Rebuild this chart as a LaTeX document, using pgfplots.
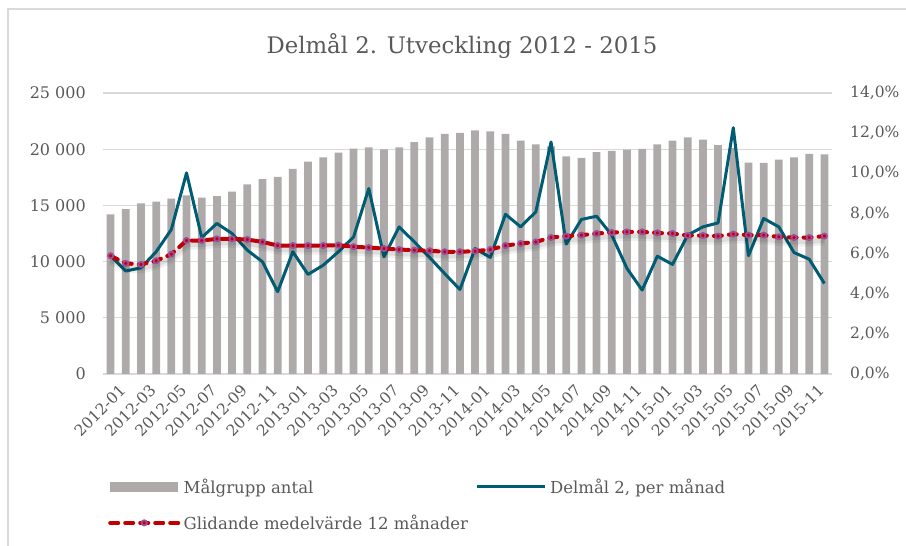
\documentclass[border=0pt]{standalone}
\usepackage{fontspec}
\setmainfont{DejaVu Serif}
\usepackage{pgfplots}
\usepackage{pgfplotstable}
\pgfplotsset{compat=1.18}
\definecolor{barc}{HTML}{AEAAAA}
\definecolor{tealc}{HTML}{005C73}
\definecolor{redc}{HTML}{C00000}
\definecolor{purpc}{HTML}{A04C9E}
\definecolor{gridc}{HTML}{D9D9D9}
\definecolor{txt}{HTML}{595959}
\pgfplotstableread{
m antal delmal glid
1 14200 5.89 5.89
2 14660 5.13 5.51
3 15170 5.29 5.46
4 15340 6.09 5.64
5 15610 7.20 5.97
6 15900 10.02 6.65
7 15700 6.80 6.65
8 15820 7.50 6.73
9 16230 7.00 6.73
10 16880 6.17 6.70
11 17330 5.59 6.58
12 17540 4.10 6.40
13 18250 6.09 6.40
14 18900 4.96 6.40
15 19280 5.42 6.40
16 19700 6.09 6.42
17 20050 6.83 6.34
18 20170 9.24 6.30
19 19990 5.84 6.25
20 20170 7.33 6.20
21 20620 6.58 6.17
22 21060 5.81 6.14
23 21360 5.00 6.09
24 21450 4.21 6.09
25 21680 6.25 6.12
26 21590 5.81 6.20
27 21360 7.96 6.40
28 20760 7.33 6.50
29 20440 8.08 6.58
30 20260 11.56 6.80
31 19370 6.47 6.87
32 19220 7.70 6.92
33 19730 7.86 7.00
34 19850 6.92 7.05
35 19960 5.26 7.08
36 20020 4.18 7.08
37 20440 5.87 7.03
38 20760 5.46 7.00
39 21060 6.92 6.90
40 20850 7.33 6.90
41 20370 7.53 6.87
42 20100 12.27 6.97
43 18800 5.89 6.92
44 18780 7.75 6.92
45 19080 7.33 6.83
46 19280 6.05 6.80
47 19580 5.72 6.80
48 19550 4.51 6.87
}\data
\begin{document}
\begin{tikzpicture}[x=1pt,y=1pt]
\path[use as bounding box] (0,0) rectangle (906,546);
\draw[color=gridc, line width=1.5pt] (8,0) -- (8,537) -- (906,537);
\node[text=txt, font=\fontsize{22.8}{27}\selectfont] at (462,500) {Delmål 2. Utveckling 2012 - 2015};
\begin{axis}[
  at={(103pt,172pt)}, anchor=south west,
  scale only axis, width=729pt, height=281pt,
  xmin=0.5, xmax=48.5, ymin=0, ymax=25000,
  scaled y ticks=false,
  axis x line*=bottom, axis y line*=left,
  y axis line style={draw=none},
  x axis line style={draw=gridc, line width=1.2pt},
  major tick length=0pt,
  ymajorgrids, grid style={draw=gridc, line width=1.2pt},
  ytick={0,5000,10000,15000,20000,25000},
  yticklabels={0,5 000,10 000,15 000,20 000,25 000},
  y tick label style={font=\fontsize{16}{19}\selectfont, text=txt, inner sep=0pt, xshift=-17pt},
  xtick={1,3,...,47},
  xticklabels={2012-01,2012-03,2012-05,2012-07,2012-09,2012-11,2013-01,2013-03,2013-05,2013-07,2013-09,2013-11,2014-01,2014-03,2014-05,2014-07,2014-09,2014-11,2015-01,2015-03,2015-05,2015-07,2015-09,2015-11},
  x tick label style={font=\fontsize{15.5}{18}\selectfont, text=txt, rotate=45, anchor=north east, inner sep=0pt, xshift=-1pt, yshift=-12pt},
]
\addplot[ybar, bar width=7.7pt, fill=barc, draw=none] table[x=m, y=antal] {\data};
\end{axis}
\begin{axis}[
  at={(103pt,172pt)}, anchor=south west,
  scale only axis, width=729pt, height=281pt,
  xmin=0.5, xmax=48.5, ymin=0, ymax=14,
  axis x line=none, axis y line*=right,
  y axis line style={draw=none},
  major tick length=0pt,
  ytick={0,2,4,6,8,10,12,14},
  yticklabels={{0,0\%},{2,0\%},{4,0\%},{6,0\%},{8,0\%},{10,0\%},{12,0\%},{14,0\%}},
  y tick label style={font=\fontsize{15.5}{18}\selectfont, text=txt, inner sep=0pt, xshift=18pt},
  legend image code/.code={\draw[mark repeat=2,mark phase=2,#1] plot coordinates {(0pt,0pt) (34pt,0pt) (68pt,0pt)};},
  legend style={draw=none, fill=none, inner sep=0pt, at={(0.0069,-0.36)}, anchor=north west,
    font=\fontsize{16.5}{19.5}\selectfont, text=txt, row sep=13pt,
    /tikz/every even column/.append style={column sep=4pt},
    nodes={inner sep=3.5pt}},
  legend columns=2, legend cell align=left,
]
\addlegendimage{fill=barc, draw=none, legend image code/.code={\fill[barc] (0pt,-5pt) rectangle (68pt,5pt);}}
\addlegendentry{Målgrupp antal}
\addplot[color=tealc, line width=3pt, line join=round, no marks] table[x=m, y=delmal] {\data};
\addlegendentry{Delmål 2, per månad}
\addplot[forget plot, draw=black, opacity=0.06, line width=10pt, no marks, yshift=-4pt] table[x=m, y=glid] {\data};
\addplot[forget plot, draw=black, opacity=0.08, line width=5pt, no marks, yshift=-4pt] table[x=m, y=glid] {\data};
\addplot[color=redc, line width=4pt, line cap=round, dash pattern=on 8pt off 7pt, mark=*, mark size=2.6pt, mark options={solid, fill=redc, draw=purpc, line width=1.8pt}] table[x=m, y=glid] {\data};
\addlegendentry{Glidande medelvärde 12 månader}
\end{axis}
\end{tikzpicture}
\end{document}
